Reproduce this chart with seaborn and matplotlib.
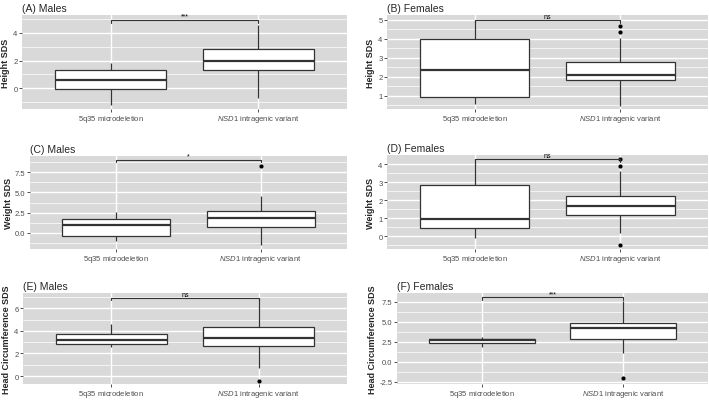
import numpy as np
import pandas as pd
import matplotlib
matplotlib.use("Agg")
import matplotlib.pyplot as plt
import seaborn as sns
from matplotlib.ticker import FixedLocator

# categories
groups = ["5q35 microdeletion", "NSD1 intragenic variant"]
group_labels = [r"$\mathrm{5q35\ microdeletion}$", r"$\mathit{NSD1}\mathrm{\ intragenic\ variant}$"]

# five-number summaries: [low whisker, Q1, median, Q3, high whisker]
height_m_del = [-1.2, -0.05, 0.58, 1.35, 1.8]
height_m_nsd = [-0.67, 1.35, 1.98, 2.84, 4.6]
height_f_del = [0.56, 0.93, 2.37, 4.0, 5.0]
height_f_nsd = [0.47, 1.82, 2.09, 2.77, 4.05]
weight_m_del = [-0.98, -0.41, 1.02, 1.68, 2.62]
weight_m_nsd = [-1.48, 0.66, 1.84, 2.66, 4.55]
weight_f_del = [-0.09, 0.44, 0.96, 2.86, 4.28]
weight_f_nsd = [0.18, 1.2, 1.7, 2.25, 3.6]
hc_m_del = [2.59, 2.87, 3.21, 3.73, 4.65]
hc_m_nsd = [0.75, 2.64, 3.36, 4.31, 6.95]
hc_f_del = [1.9, 2.3, 2.7, 2.85, 3.16]
hc_f_nsd = [1.1, 2.8, 4.19, 4.9, 7.58]

# outliers (NSD1 group only)
height_f_out = [4.35, 4.68]
weight_m_out = [8.32]
weight_f_out = [3.88, 4.28, -0.46]
hc_m_out = [-0.4]
hc_f_out = [-2.05]

# significance labels and bracket heights
sig_labels = ["***", "ns", "*", "ns", "ns", "***"]
sig_y = [4.96, 5.0, 9.06, 4.28, 6.95, 8.06]

titles = ["(A) Males", "(B) Females", "(C) Males", "(D) Females", "(E) Males", "(F) Females"]
ylabels = ["Height SDS", "Height SDS", "Weight SDS", "Weight SDS",
           "Head Circumference SDS", "Head Circumference SDS"]
ylims = [(-1.5, 5.3), (0.3, 5.25), (-2.0, 9.5), (-0.7, 4.5), (-0.7, 7.35), (-2.77, 8.6)]
yticks = [[0, 2, 4], [1, 2, 3, 4, 5], [0, 2.5, 5, 7.5], [0, 1, 2, 3, 4],
          [0, 2, 4, 6], [-2.5, 0, 2.5, 5, 7.5]]

panels = [
    (height_m_del, height_m_nsd, []),
    (height_f_del, height_f_nsd, height_f_out),
    (weight_m_del, weight_m_nsd, weight_m_out),
    (weight_f_del, weight_f_nsd, weight_f_out),
    (hc_m_del, hc_m_nsd, hc_m_out),
    (hc_f_del, hc_f_nsd, hc_f_out),
]

sns.set_theme(style="darkgrid", rc={"axes.facecolor": "#D9D9D9", "grid.color": "white"})
plt.rcParams['font.family'] = ['Liberation Sans', 'DejaVu Sans']
plt.rcParams['mathtext.fontset'] = 'custom'
plt.rcParams['mathtext.rm'] = 'Liberation Sans'
plt.rcParams['mathtext.it'] = 'Liberation Sans:italic'

W, H = 709, 402
fig = plt.figure(figsize=(W / 100, H / 100), dpi=100)

# panel boxes in pixels: (left, right, top, bottom)
boxes = [(22, 347, 16, 110), (387, 708, 16, 110),
         (30, 347, 157, 250), (387, 708, 156, 250),
         (23, 347, 294, 385), (397, 708, 294, 385)]

dark = "#333333"
for i, (d1, d2, outs) in enumerate(panels):
    x0, x1, y0, y1 = boxes[i]
    ax = fig.add_axes([x0 / W, 1 - y1 / H, (x1 - x0) / W, (y1 - y0) / H])

    df = pd.DataFrame({"group": [groups[0]] * len(d1) + [groups[1]] * len(d2),
                       "value": d1 + d2})
    sns.boxplot(data=df, x="group", y="value", order=groups, color="white",
                linecolor=dark, linewidth=0.9, width=0.75, whis=(0, 100),
                showfliers=False, showcaps=False,
                medianprops=dict(linewidth=1.6, color=dark), ax=ax)
    if outs:
        od = pd.DataFrame({"group": [groups[1]] * len(outs), "value": outs})
        sns.stripplot(data=od, x="group", y="value", order=groups, jitter=False,
                      color="black", size=3, ax=ax)

    ax.set_xlim(-0.6, 1.6)
    ax.set_ylim(*ylims[i])
    ax.set_xticks([0, 1])
    ax.set_xticklabels(group_labels)
    tk = yticks[i]
    ax.set_yticks(tk)
    if any(isinstance(t, float) for t in tk):
        ax.set_yticklabels([f"{t:.1f}" for t in tk])
    step = tk[1] - tk[0]
    minors = np.arange(tk[0] - step / 2, ylims[i][1], step)
    ax.yaxis.set_minor_locator(FixedLocator(minors))
    ax.grid(which="minor", axis="y", color="white", linewidth=0.5)
    ax.grid(which="major", axis="both", color="white", linewidth=1.0)
    ax.xaxis.grid(True)
    for s in ax.spines.values():
        s.set_visible(False)
    ax.tick_params(axis="both", which="major", left=True, bottom=True, length=2,
                   width=0.6, color=dark, labelsize=5.5, labelcolor="#4D4D4D", pad=1.2)
    ax.tick_params(axis="y", which="minor", left=False)
    ax.set_xlabel("")
    ax.set_ylabel(ylabels[i], fontsize=6.5, fontweight="bold", labelpad=1.5)
    ax.set_title(titles[i], loc="left", fontsize=7.5, pad=3)

    # significance bracket
    yb = sig_y[i]
    tip = 0.03 * (ylims[i][1] - ylims[i][0])
    ax.plot([0, 0, 1, 1], [yb - tip, yb, yb, yb - tip], color=dark, lw=0.8,
            clip_on=False, zorder=5)
    ax.text(0.5, yb, sig_labels[i], ha="center", va="bottom", fontsize=5,
            color="black", clip_on=False)

fig.savefig("out.png", dpi=100)
